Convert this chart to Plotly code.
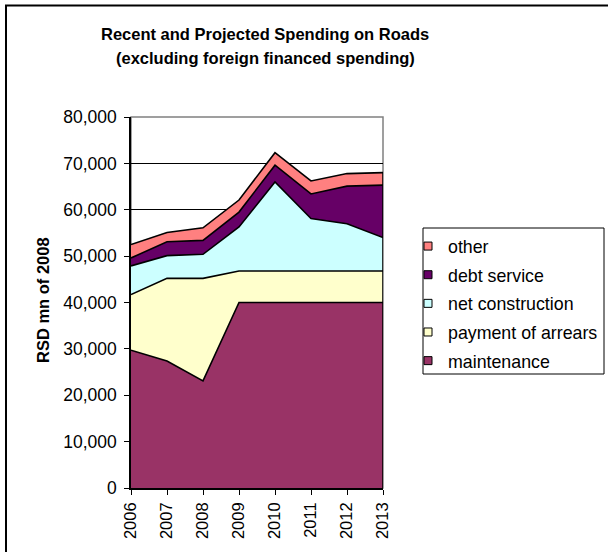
import plotly.graph_objects as go

years = [2006, 2007, 2008, 2009, 2010, 2011, 2012, 2013]

maintenance = [29700, 27400, 23100, 40000, 40000, 40000, 40000, 40000]
arrears = [12000, 17800, 22100, 6800, 6800, 6800, 6800, 6800]
net_construction = [6200, 4900, 5200, 9500, 19200, 11300, 10200, 7200]
debt_service = [1700, 3000, 3000, 3200, 3600, 5300, 8100, 11300]
other = [2900, 2000, 2700, 2600, 2700, 2800, 2700, 2700]

series = [
    ("maintenance", maintenance, "#993366"),
    ("payment of arrears", arrears, "#FFFFCC"),
    ("net construction", net_construction, "#CCFFFF"),
    ("debt service", debt_service, "#660066"),
    ("other", other, "#FF8080"),
]

FONT = "Arial, Liberation Sans, sans-serif"

# plot area in pixels
W, H = 608, 552
L, R, T, B = 131, 383, 117, 488


def px(x):
    return (x - L) / (R - L)


def py(y):
    return (B - y) / (B - T)


fig = go.Figure()
for name, vals, color in series:
    fig.add_trace(go.Scatter(
        x=years, y=vals, name=name, mode="lines",
        stackgroup="one", fillcolor=color,
        line=dict(color="black", width=1.6),
        showlegend=False,
    ))

# closing edge of the stacked areas at the last year
total_last = sum(s[1][-1] for s in series)
fig.add_trace(go.Scatter(
    x=[years[-1], years[-1]], y=[0, total_last], mode="lines",
    line=dict(color="black", width=1.6), showlegend=False, hoverinfo="skip",
))

# square swatches for the legend, top series first
for name, vals, color in reversed(series):
    fig.add_trace(go.Scatter(
        x=[None], y=[None], name=name, mode="markers", legendgroup=name,
        marker=dict(symbol="square", size=8, color=color,
                    line=dict(color="black", width=1)),
    ))

fig.update_layout(
    width=W, height=H,
    margin=dict(l=L, r=W - R, t=T, b=H - B, autoexpand=False),
    paper_bgcolor="white", plot_bgcolor="white",
    font=dict(family=FONT, size=17.5, color="black"),
    showlegend=True,
    legend=dict(
        traceorder="grouped", tracegroupgap=2.5,
        x=px(408), y=py(228), xanchor="left", yanchor="top",
        borderwidth=0, bgcolor="rgba(0,0,0,0)",
        font=dict(size=17.8),
    ),
    xaxis=dict(
        range=[years[0], years[-1]], tickvals=years, ticktext=[str(y) for y in years],
        tickangle=-90, ticks="outside", ticklen=5, tickcolor="black",
        ticklabelstandoff=1, tickfont=dict(size=16.5),
        showline=True, linecolor="black", linewidth=1.5,
        showgrid=False, zeroline=False,
    ),
    yaxis=dict(
        range=[0, 80000], dtick=10000, tickformat=",d",
        ticks="outside", ticklen=5, tickcolor="black",
        ticklabelstandoff=4,
        showline=True, linecolor="black", linewidth=1.5,
        showgrid=True, gridcolor="black", gridwidth=1, zeroline=False,
    ),
    shapes=[
        # plot area frame (top and right in grey)
        dict(type="rect", xref="x domain", yref="y domain", x0=0, x1=1, y0=0, y1=1,
             line=dict(color="#808080", width=1.5), layer="below"),
        # legend box
        dict(type="rect", xref="paper", yref="paper",
             x0=px(423), x1=px(604), y0=py(228), y1=py(374),
             line=dict(color="black", width=1), fillcolor="rgba(0,0,0,0)"),
        # outer chart border
        dict(type="rect", xref="paper", yref="paper",
             x0=px(6), x1=px(640), y0=py(5.5), y1=py(590),
             line=dict(color="black", width=2)),
    ],
    annotations=[
        dict(text="<b>Recent and Projected Spending on Roads</b>", xref="paper", yref="paper",
             x=px(265), y=py(34), showarrow=False, font=dict(size=16.5),
             xanchor="center", yanchor="middle"),
        dict(text="<b>(excluding foreign financed spending)</b>", xref="paper", yref="paper",
             x=px(265), y=py(58), showarrow=False, font=dict(size=16.5),
             xanchor="center", yanchor="middle"),
        dict(text="<b>RSD mn of 2008</b>", xref="paper", yref="paper",
             x=px(43), y=py(300), showarrow=False, font=dict(size=16.5),
             textangle=-90, xanchor="center", yanchor="middle"),
    ],
)

fig.write_html("out.html")
